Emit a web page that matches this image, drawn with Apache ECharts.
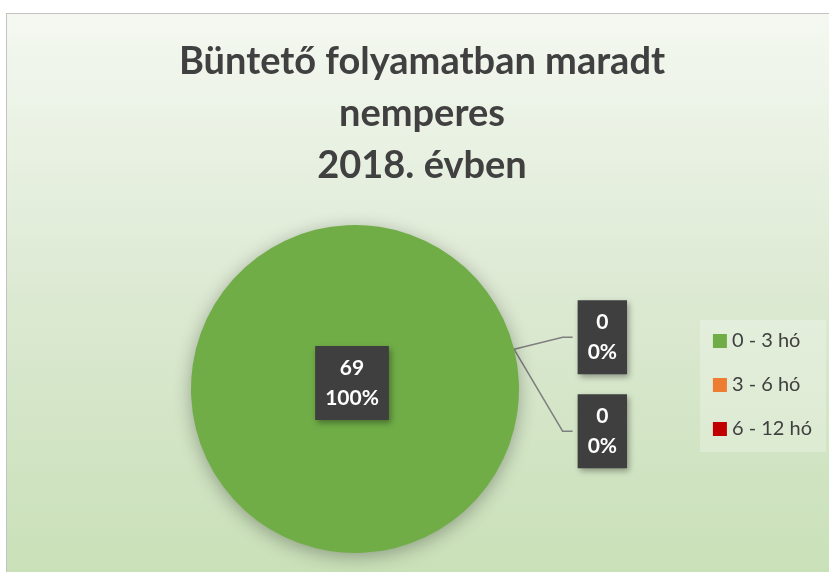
<!DOCTYPE html>
<html>
<head>
<meta charset="utf-8">
<script src="https://cdn.jsdelivr.net/npm/echarts@6/dist/echarts.min.js"></script>
<style>
    html, body {margin: 0; padding: 0; background: #ffffff; overflow: hidden;}
    .pie__container {
        position: absolute;
        left: 6px;
        top: 13px;
        width: 830px;
        height: 570px;
        border: 1px solid #c3c3c3;
    }
</style>
</head>
<body>
<div class="pie__container"></div>
<script>
let main = document.querySelector('.pie__container');
let chart = echarts.init(main, null, {renderer: 'canvas'});

let categories = ['0 - 3 hó', '3 - 6 hó', '6 - 12 hó'];
let values = [69, 0, 0];
let colors = ['#70ad47', '#ed7d31', '#c00000'];

let labelBox = {
    color: '#ffffff',
    fontFamily: 'Lato',
    fontWeight: 'bold',
    fontSize: 21,
    lineHeight: 30,
    backgroundColor: '#3f3f3f',
    padding: [7, 10, 7, 10],
    minMargin: 20,
    shadowColor: 'rgba(0,0,0,0.35)',
    shadowBlur: 6,
    shadowOffsetX: 2,
    shadowOffsetY: 3,
    rich: {
        c: {
            align: 'center',
            color: '#ffffff',
            fontFamily: 'Lato',
            fontWeight: 'bold',
            fontSize: 21,
            lineHeight: 30,
        }
    },
    formatter: (params) => `{c|${params.value}}\n{c|${Math.round(params.percent)}%}`,
};

let option = {
    backgroundColor: {
        type: 'linear', x: 0, y: 0, x2: 0, y2: 1,
        colorStops: [
            {offset: 0, color: '#f4f8f1'},
            {offset: 0.5, color: '#dce9d2'},
            {offset: 1, color: '#c8e0b7'},
        ]
    },
    title: {
        text: 'Büntető folyamatban maradt\nnemperes\n2018. évben',
        left: 'center',
        top: 17,
        textStyle: {
            fontFamily: 'Lato',
            fontWeight: 'bold',
            fontSize: 38,
            lineHeight: 52,
            color: '#404040',
        },
    },
    legend: {
        orient: 'vertical',
        right: 11,
        top: 306,
        padding: [11, 14, 13, 13],
        itemGap: 24,
        itemWidth: 14,
        itemHeight: 14,
        icon: 'rect',
        backgroundColor: 'rgba(255,255,255,0.25)',
        data: categories,
        textStyle: {
            fontFamily: 'Lato',
            fontSize: 20,
            color: '#404040',
        },
    },
    series: [{
        type: 'pie',
        center: [348, 375],
        radius: 164,
        startAngle: 14,
        clockwise: true,
        avoidLabelOverlap: true,
        color: colors,
        itemStyle: {
            shadowColor: 'rgba(0,0,0,0.3)',
            shadowBlur: 18,
            shadowOffsetY: 4,
        },
        label: {...labelBox, position: 'outside'},
        labelLine: {
            show: true,
            length: 50,
            length2: 10,
            lineStyle: {color: '#7f7f7f', width: 1.5},
        },
        emphasis: {disabled: true},
        data: categories.map((name, i) => ({
            name: name,
            value: values[i],
            label: i === 0 ? {position: 'center', offset: [-3, -6]} : undefined,
            labelLine: i === 0 ? {show: false} : undefined,
        })),
    }],
};

chart.setOption(option);
window.addEventListener('resize', chart.resize);
</script>
</body>
</html>
